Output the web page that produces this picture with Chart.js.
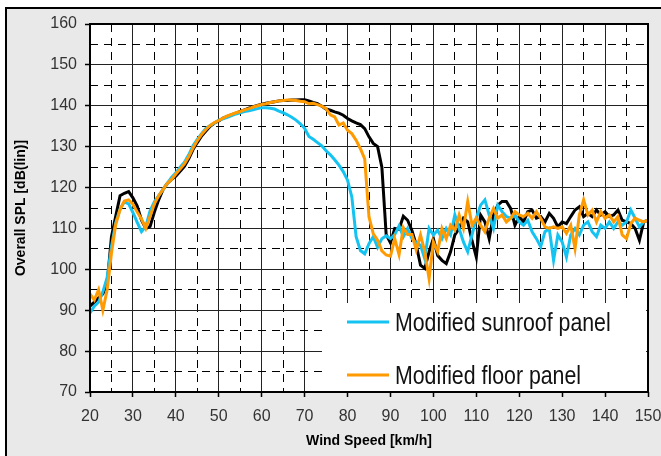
<!DOCTYPE html>
<html>
<head>
<meta charset="utf-8">
<script src="https://cdn.jsdelivr.net/npm/chart.js@4/dist/chart.umd.min.js"></script>
<style>
  html, body { margin: 0; padding: 0; background: #fff; }
  #wrap { width: 661px; height: 456px; }
</style>
</head>
<body>
<div id="wrap"><canvas id="spl-chart" width="661" height="456"></canvas></div>
<script>
'use strict';

/* Data (km/h -> dB(lin)) */
const speeds = [
  20, 21, 22, 23, 24, 25, 26, 27, 28, 29, 30, 31, 32, 33, 34, 35, 36, 37, 38, 39,
  40, 41, 42, 43, 44, 45, 46, 47, 48, 49, 50, 51, 52, 53, 54, 55, 56, 57, 58, 59,
  60, 61, 62, 63, 64, 65, 66, 67, 68, 69, 70, 71, 72, 73, 74, 75, 76, 77, 78, 79,
  80, 81, 82, 83, 84, 85, 86, 87, 88, 89, 90, 91, 92, 93, 94, 95, 96, 97, 98, 99,
  100, 101, 102, 103, 104, 105, 106, 107, 108, 109, 110, 111, 112, 113, 114, 115, 116, 117, 118, 119,
  120, 121, 122, 123, 124, 125, 126, 127, 128, 129, 130, 131, 132, 133, 134, 135, 136, 137, 138, 139,
  140, 141, 142, 143, 144, 145, 146, 147, 148, 149, 150
];

const baselineSpl = [
  91, 92, 93, 94, 96.5, 108, 113, 118, 118.6, 119, 117.5, 115.5, 112, 110, 110.5, 114, 117, 119.5, 121, 122,
  122.8, 124, 125.2, 127, 129.3, 131, 132.6, 133.8, 135, 135.8, 136.3, 137, 137.4, 137.8, 138.2, 138.6, 139, 139.4, 139.8, 140.1,
  140.4, 140.6, 140.8, 141, 141.2, 141.3, 141.3, 141.4, 141.4, 141.5, 141.5, 141.2, 140.8, 140.5, 139.9, 139.2, 138.9, 138.5, 138.2, 137.7,
  136.9, 136.3, 135.8, 135.4, 134.4, 132.4, 130.8, 130, 125, 108.5, 106.5, 110, 109.8, 113, 112, 109.5, 106, 101, 100.2, 104.3,
  107.5, 103.4, 102.2, 101.4, 104.3, 108.4, 110, 112.5, 111.6, 107, 103, 113.3, 111.6, 107.5, 113.3, 115.7, 116.6, 116.6, 114.9, 110.8,
  112.9, 111.6, 114.1, 114.5, 112.5, 112.9, 111.6, 113.7, 112.5, 110.4, 111.6, 111.2, 112.9, 114.5, 115.3, 112.9, 113.7, 112.9, 114.5, 113.3,
  114.1, 112.9, 113.3, 114.5, 112, 111.6, 111.2, 110, 107.1, 111.6, 112
];

const sunroofSpl = [
  89.3, 91, 92, 94.5, 98, 105.6, 111.4, 114.7, 116.5, 116, 113.9, 111.5, 109.2, 110.5, 114.3, 116.5, 118, 119.5, 121, 122.5,
  123.6, 125, 126.2, 128, 130.2, 131.8, 133.2, 134.5, 135.2, 135.8, 136.5, 136.8, 137.2, 137.6, 138, 138.3, 138.6, 138.8, 139, 139.3,
  139.5, 139.5, 139.4, 139.2, 138.7, 138.3, 137.8, 137.2, 136.5, 135.6, 134.5, 132.5, 131.8, 131, 130.2, 129, 128, 126.8, 125.5, 123.9,
  121.8, 117.7, 108, 104.6, 103.8, 106.3, 108, 105.4, 107.5, 108.2, 107.5, 108.5, 110.6, 108, 110, 107.5, 106.5, 105.9, 102.6, 110,
  108.4, 109.6, 107.5, 110, 108.4, 113.3, 110, 106.7, 104.3, 108.4, 112.5, 115.7, 117, 113.3, 110, 115.7, 114.1, 112.9, 112.5, 113.3,
  111.6, 110.8, 112, 109.2, 107.5, 105.5, 109.2, 110, 102.2, 108.4, 106.7, 103, 108.4, 110, 108.4, 110.8, 111.6, 109.2, 108, 110.8,
  110, 111.6, 110, 111.6, 110.8, 111.6, 114.5, 112.5, 110.4, 111.6, 112
];

const floorSpl = [
  94, 92.5, 95, 90, 95, 104, 111, 114.6, 116.7, 117, 115.9, 114, 112.3, 110, 113, 116, 118, 119.5, 121, 122,
  123.3, 124.5, 125.8, 127.5, 129.7, 131.5, 133, 134.2, 135.2, 135.9, 136.4, 137, 137.5, 137.9, 138.3, 138.6, 139, 139.3, 139.7, 140,
  140.3, 140.5, 140.8, 141, 141.2, 141.3, 141.4, 141.4, 141.3, 141.1, 141, 140.5, 140.6, 140.3, 139.9, 139.3, 137.8, 137.3, 135.3, 135.8,
  134, 133.2, 131.6, 129.5, 127, 112.8, 108.7, 107.1, 104.5, 103.5, 103.2, 107.5, 103.6, 110.2, 108.5, 108.5, 104.8, 108.4, 104.3, 97.7,
  106.7, 104.3, 110, 107.5, 110.8, 109.6, 113.3, 110, 116.6, 110.8, 112.5, 110.8, 109.2, 112.5, 114.9, 112.5, 113.3, 111.6, 112.5, 114.1,
  113.3, 112.9, 113.7, 112.5, 114.1, 112.5, 110.4, 110, 110.4, 110, 110.4, 108.8, 110.8, 105.1, 113.3, 117, 113.3, 114.5, 111.6, 114.1,
  112.5, 113.3, 111.6, 112.9, 108.4, 107.5, 111.2, 112.5, 112, 111.6, 112
];

const seriesLabels = ['Baseline', 'Modified sunroof panel', 'Modified floor panel'];
const seriesColors = ['#000000', '#14c3f2', '#ff9a00'];

const X_MIN = 20, X_MAX = 150;
const Y_MIN = 70, Y_MAX = 160;

const TICK_FONT = { family: "'Liberation Sans', Arial, sans-serif", size: 16 };
const TITLE_FONT = { family: "'Liberation Sans', Arial, sans-serif", size: 14, weight: 'bold' };
const LEGEND_FONT = "26px 'Liberation Sans', Arial, sans-serif";
const LEGEND_SQUEEZE = 0.82; // reference legend face is a narrow one

/* Helpers */
function toPoints(values) {
  return speeds.map((s, i) => ({ x: s, y: values[i] }));
}
const isMajor = (v) => v % 10 === 0;

/* Grey page frame + white plot background */
const frameBackground = {
  id: 'frameBackground',
  beforeDraw(chart) {
    const { ctx, width, height, chartArea } = chart;
    ctx.save();
    ctx.fillStyle = '#ffffff';
    ctx.fillRect(0, 0, width, height);
    ctx.fillStyle = '#e9e9e9';
    ctx.fillRect(6, 8, width - 6, height - 8);
    ctx.strokeStyle = '#000';
    ctx.lineWidth = 2;
    ctx.beginPath();
    ctx.moveTo(6, height);
    ctx.lineTo(6, 8);
    ctx.lineTo(width, 8);
    ctx.stroke();
    ctx.fillStyle = '#ffffff';
    ctx.fillRect(chartArea.left, chartArea.top, chartArea.width, chartArea.height);
    ctx.restore();
  }
};

/* Legend box inside the plot, lower right */
const insetLegend = {
  id: 'insetLegend',
  beforeDatasetsDraw(chart) {
    const { ctx, chartArea } = chart;
    const left = chartArea.right - 326;
    const top = chartArea.bottom - 89;
    ctx.save();
    ctx.fillStyle = '#ffffff';
    ctx.fillRect(left, top, chartArea.right - 2 - left, chartArea.bottom - 1 - top);
    const items = chart.data.datasets.filter((ds) => ds.showInLegend !== false);
    ctx.font = LEGEND_FONT;
    ctx.textBaseline = 'alphabetic';
    items.forEach((ds, i) => {
      const y = top + 19 + i * 53;
      ctx.strokeStyle = ds.borderColor;
      ctx.lineWidth = 3;
      ctx.beginPath();
      ctx.moveTo(left + 25, y);
      ctx.lineTo(left + 67, y);
      ctx.stroke();
      ctx.save();
      ctx.translate(left + 73, y + 9);
      ctx.scale(LEGEND_SQUEEZE, 1);
      ctx.fillStyle = '#111';
      ctx.fillText(ds.label, 0, 0);
      ctx.restore();
    });
    ctx.restore();
  }
};

/* Black frame round the plot area */
const plotFrame = {
  id: 'plotFrame',
  afterDatasetsDraw(chart) {
    const { ctx, chartArea } = chart;
    ctx.save();
    ctx.strokeStyle = '#000';
    ctx.lineWidth = 2;
    ctx.strokeRect(chartArea.left, chartArea.top, chartArea.width, chartArea.height);
    ctx.restore();
  }
};

function gridFor(ctx) {
  return ctx.tick && isMajor(ctx.tick.value) ? '#222' : '#000';
}

function initChart() {
  const ctx = document.getElementById('spl-chart').getContext('2d');
  const values = [baselineSpl, sunroofSpl, floorSpl];

  const datasets = values.map((vals, i) => ({
    label: seriesLabels[i],
    data: toPoints(vals),
    borderColor: seriesColors[i],
    backgroundColor: seriesColors[i],
    borderWidth: 3,
    pointRadius: 0,
    tension: 0,
    fill: false,
    order: 2 - i,
    showInLegend: i !== 0,
  }));

  const sharedGrid = {
    color: gridFor,
    lineWidth: 1,
    tickLength: 5,
    tickWidth: 1.5,
    tickColor: (c) => (c.tick && isMajor(c.tick.value) ? '#000' : 'rgba(0,0,0,0)'),
  };
  const sharedBorder = {
    display: false,
    dash: (c) => (c.tick && !isMajor(c.tick.value) ? [8, 6] : []),
  };

  new Chart(ctx, {
    type: 'line',
    data: { datasets },
    options: {
      responsive: false,
      devicePixelRatio: 1,
      animation: false,
      layout: { padding: { left: 0, top: 24, right: 13, bottom: 0 } },
      plugins: {
        legend: { display: false },
        tooltip: { enabled: false },
      },
      scales: {
        x: {
          type: 'linear',
          min: X_MIN,
          max: X_MAX,
          afterFit: (scale) => {
            scale.height = 64;
            scale.paddingLeft = 0;
            scale.paddingRight = 0;
          },
          grid: sharedGrid,
          border: sharedBorder,
          ticks: {
            stepSize: 5,
            autoSkip: false,
            maxRotation: 0,
            padding: 10,
            color: '#333',
            font: TICK_FONT,
            callback: (v) => (isMajor(v) ? String(v) : ''),
          },
          title: {
            display: true,
            text: 'Wind Speed [km/h]',
            color: '#000',
            font: TITLE_FONT,
            padding: { top: 0, bottom: 6 },
          },
        },
        y: {
          type: 'linear',
          min: Y_MIN,
          max: Y_MAX,
          afterFit: (scale) => { scale.width = 90; },
          grid: sharedGrid,
          border: sharedBorder,
          ticks: {
            stepSize: 5,
            autoSkip: false,
            padding: 8,
            color: '#333',
            font: TICK_FONT,
            callback: (v) => (isMajor(v) ? String(v) : ''),
          },
          title: {
            display: true,
            text: 'Overall SPL [dB(lin)]',
            color: '#000',
            font: TITLE_FONT,
            padding: { top: 13, bottom: 0 },
          },
        },
      },
    },
    plugins: [frameBackground, insetLegend, plotFrame],
  });
}

document.addEventListener('DOMContentLoaded', initChart);
</script>
</body>
</html>
